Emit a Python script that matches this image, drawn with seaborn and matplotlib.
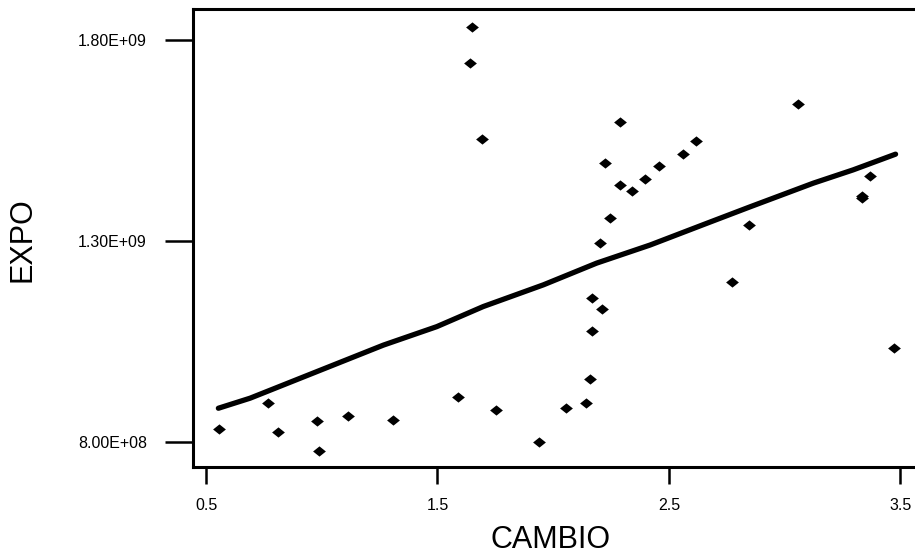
import matplotlib
matplotlib.use("Agg")
import matplotlib.pyplot as plt
import pandas as pd
import seaborn as sns

# Observations: exchange rate (CAMBIO) vs exports (EXPO)
cambio = [0.557, 0.768, 0.811, 0.980, 0.990, 1.115, 1.309, 1.588, 1.752,
          1.651, 1.641, 1.693, 1.939, 2.054, 2.141, 2.159, 2.168, 2.169,
          2.213, 2.201, 2.244, 2.226, 2.289, 2.287, 2.341, 2.395, 2.459,
          2.563, 2.618, 2.773, 2.847, 3.059, 3.333, 3.337, 3.368, 3.475]
expo = [833e6, 897e6, 827e6, 853e6, 778e6, 865e6, 855e6, 914e6, 881e6,
        1834e6, 1743e6, 1554e6, 800e6, 886e6, 897e6, 958e6, 1078e6, 1160e6,
        1131e6, 1295e6, 1359e6, 1495e6, 1596e6, 1440e6, 1425e6, 1456e6, 1488e6,
        1517e6, 1549e6, 1198e6, 1340e6, 1642e6, 1414e6, 1408e6, 1463e6, 1034e6]

# Fitted trend line
fit_x = [0.553, 0.690, 0.978, 1.266, 1.497, 1.698, 1.958, 2.188, 2.419,
         2.664, 2.851, 3.125, 3.297, 3.480]
fit_y = [885e6, 910e6, 976e6, 1042e6, 1088e6, 1138e6, 1192e6, 1246e6, 1291e6,
         1345e6, 1386e6, 1445e6, 1478e6, 1517e6]

x_ticks = [0.5, 1.5, 2.5, 3.5]
x_tick_labels = ["0.5", "1.5", "2.5", "3.5"]
y_ticks = [8.0e8, 1.3e9, 1.8e9]
y_tick_labels = ["8.00E+08", "1.30E+09", "1.80E+09"]

sns.set_theme(style="white")
plt.rcParams["font.family"] = ["Liberation Sans", "DejaVu Sans"]

W, H = 915, 560
fig = plt.figure(figsize=(W / 100, H / 100), dpi=100)
left_px, right_px, top_px, bottom_px = 192.7, 915, 9, 466.7
ax = fig.add_axes([left_px / W, 1 - bottom_px / H,
                   (right_px - left_px) / W, (bottom_px - top_px) / H])

points = pd.DataFrame({"CAMBIO": cambio, "EXPO": expo})
trend = pd.DataFrame({"CAMBIO": fit_x, "EXPO": fit_y})

sns.lineplot(data=trend, x="CAMBIO", y="EXPO", color="black",
             linewidth=3.8, ax=ax, sort=False)
diamond = [(-1, 0), (0, 0.8), (1, 0), (0, -0.8), (-1, 0)]
sns.scatterplot(data=points, x="CAMBIO", y="EXPO", marker=diamond, s=85,
                color="black", linewidth=0, ax=ax, zorder=3)

ax.set_xlim(0.442, 3.564)
ax.set_ylim(0.7396e9, 1.8781e9)
ax.set_xticks(x_ticks, labels=x_tick_labels)
ax.set_yticks(y_ticks, labels=y_tick_labels)

ax.tick_params(axis="x", bottom=True, direction="out", length=12.5,
               width=1.8, pad=10, labelsize=11.5, colors="black")
ax.tick_params(axis="y", left=True, direction="out", length=20,
               width=1.8, pad=13, labelsize=11.5, colors="black")

for side in ("left", "top", "bottom"):
    ax.spines[side].set_color("black")
    ax.spines[side].set_linewidth(2.2)
ax.spines["right"].set_visible(False)

ax.set_xlabel("CAMBIO", fontsize=22, color="black")
ax.set_ylabel("EXPO", fontsize=22, color="black")
ax.xaxis.label.set(va="center", ha="center")
ax.yaxis.label.set(va="center", ha="center")
ax.xaxis.set_label_coords((551 - left_px) / (right_px - left_px),
                          (bottom_px - 540) / (bottom_px - top_px))
ax.yaxis.set_label_coords((22.5 - left_px) / (right_px - left_px),
                          (bottom_px - 240) / (bottom_px - top_px))

fig.savefig("out.png", dpi=100)
